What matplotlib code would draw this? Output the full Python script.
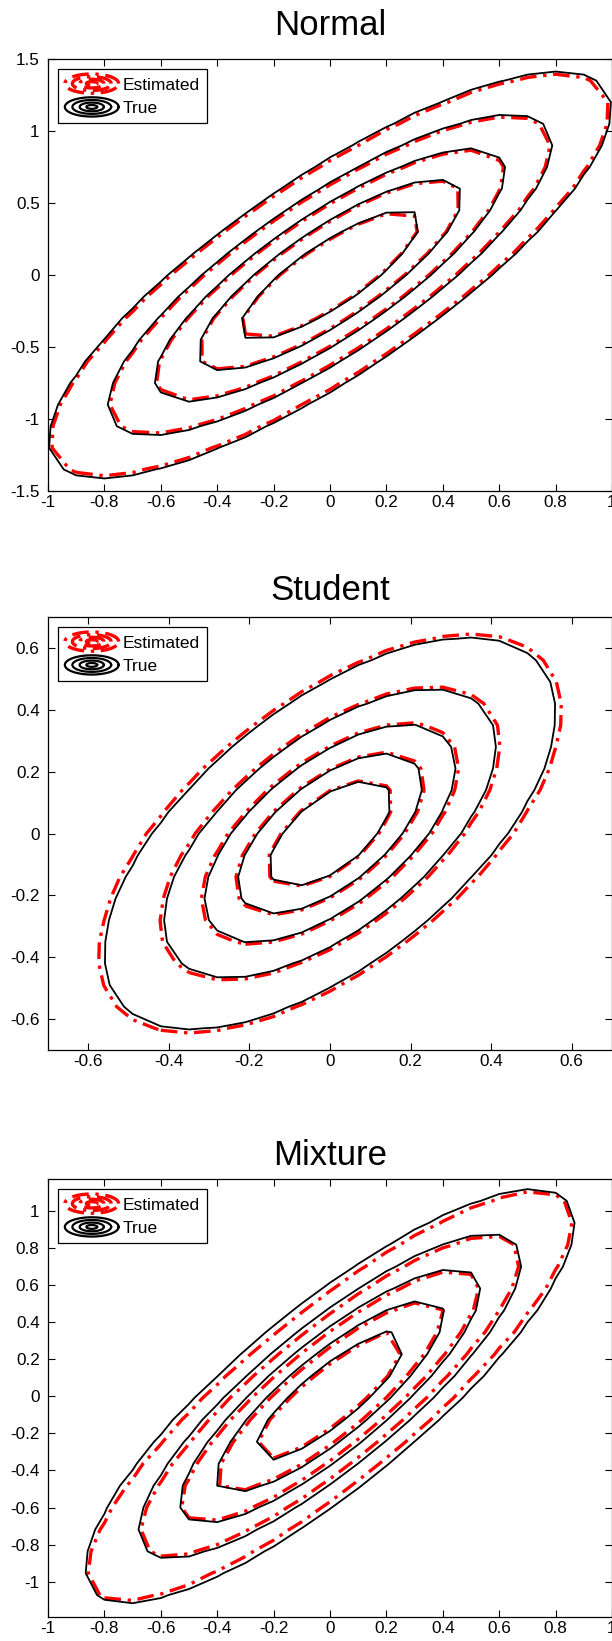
import numpy as np
import matplotlib
matplotlib.use('Agg')
import matplotlib.pyplot as plt
from matplotlib.legend_handler import HandlerBase
from matplotlib.lines import Line2D

plt.rcParams['font.family'] = ['Liberation Sans', 'DejaVu Sans']
plt.rcParams['axes.unicode_minus'] = False
plt.rcParams['lines.dashdot_pattern'] = [5.0, 2.0, 1.0, 2.0]

# contour levels as fractions of the peak density
level_frac = [0.17, 0.33, 0.5, 0.67, 0.83]
grid_n = 21

# Normal panel
normal_xlim = [-1.0, 1.0]
normal_ylim = [-1.5, 1.5]
normal_xticks = [-1, -0.8, -0.6, -0.4, -0.2, 0, 0.2, 0.4, 0.6, 0.8, 1]
normal_yticks = [-1.5, -1, -0.5, 0, 0.5, 1, 1.5]
normal_true_sd = [0.53, 0.75]
normal_true_rho = 0.82
normal_est_sd = [0.525, 0.74]
normal_est_rho = 0.825

# Student panel
student_xlim = [-0.7, 0.7]
student_ylim = [-0.7, 0.7]
student_xticks = [-0.6, -0.4, -0.2, 0, 0.2, 0.4, 0.6]
student_yticks = [-0.6, -0.4, -0.2, 0, 0.2, 0.4, 0.6]
student_df = 3
student_true_sd = [0.318, 0.36]
student_true_rho = 0.62
student_est_sd = [0.326, 0.366]
student_est_rho = 0.615

# Mixture panel
mixture_xlim = [-1.0, 1.0]
mixture_ylim = [-1.19, 1.17]
mixture_xticks = [-1, -0.8, -0.6, -0.4, -0.2, 0, 0.2, 0.4, 0.6, 0.8, 1]
mixture_yticks = [-1, -0.8, -0.6, -0.4, -0.2, 0, 0.2, 0.4, 0.6, 0.8, 1]
mixture_weights = [0.5, 0.5]
mixture_true_sd = [[0.52, 0.67], [0.42, 0.54]]
mixture_true_rho = 0.84
mixture_est_sd = [[0.515, 0.66], [0.415, 0.535]]
mixture_est_rho = 0.86


def quad_form(X, Y, sd, rho):
    zx = X / sd[0]
    zy = Y / sd[1]
    return (zx**2 - 2 * rho * zx * zy + zy**2) / (1 - rho**2)


def gauss_pdf(X, Y, sd, rho):
    q = quad_form(X, Y, sd, rho)
    return np.exp(-q / 2) / (2 * np.pi * sd[0] * sd[1] * np.sqrt(1 - rho**2))


def student_pdf(X, Y, sd, rho, nu):
    q = quad_form(X, Y, sd, rho)
    return (1 + q / nu) ** (-(nu + 2) / 2) / (2 * np.pi * sd[0] * sd[1] * np.sqrt(1 - rho**2))


def mixture_pdf(X, Y, sds, rho, w):
    return sum(wk * gauss_pdf(X, Y, sk, rho) for wk, sk in zip(w, sds))


class ContourIcon(HandlerBase):
    # small nest of ellipses standing in for a contour set
    def create_artists(self, legend, orig_handle, xdescent, ydescent,
                       width, height, fontsize, trans):
        cx = width / 2 - xdescent
        cy = height / 2 - ydescent
        t = np.linspace(0, 2 * np.pi, 80)
        arts = []
        for s in (1.0, 0.72, 0.45, 0.2):
            ln = Line2D(cx + s * 0.5 * width * np.cos(t),
                        cy + s * 0.62 * height * np.sin(t),
                        color=orig_handle.get_color(),
                        linestyle=orig_handle.get_linestyle(),
                        linewidth=orig_handle.get_linewidth())
            ln.set_transform(trans)
            arts.append(ln)
        return arts


def draw_panel(ax, title, title_pad, xlim, ylim, xticks, yticks, pdf_true, pdf_est):
    gx = np.linspace(xlim[0], xlim[1], grid_n)
    gy = np.linspace(ylim[0], ylim[1], grid_n)
    X, Y = np.meshgrid(gx, gy)
    Zt = pdf_true(X, Y)
    Ze = pdf_est(X, Y)
    ax.contour(X, Y, Ze, levels=Ze.max() * np.array(level_frac),
               colors='#ff0000', linewidths=2.4, linestyles='dashdot')
    ax.contour(X, Y, Zt, levels=Zt.max() * np.array(level_frac),
               colors='black', linewidths=1.3, linestyles='solid')
    ax.set_xlim(xlim)
    ax.set_ylim(ylim)
    ax.set_xticks(xticks)
    ax.set_yticks(yticks)
    ax.set_xticklabels([f'{v:g}' for v in xticks])
    ax.set_yticklabels([f'{v:g}' for v in yticks])
    ax.tick_params(direction='in', top=True, right=True, length=5,
                   width=0.8, labelsize=12.3)
    ax.tick_params(axis='x', pad=3)
    ax.tick_params(axis='y', pad=6)
    for sp in ax.spines.values():
        sp.set_linewidth(0.9)
    ax.set_title(title, fontsize=25, pad=title_pad)
    h_est = Line2D([], [], color='#ff0000', linestyle='-.', linewidth=2.4)
    h_true = Line2D([], [], color='black', linestyle='-', linewidth=1.6)
    leg = ax.legend([h_est, h_true], ['Estimated', 'True'], loc='upper left',
                    handler_map={Line2D: ContourIcon()}, fontsize=12.5,
                    handlelength=3.1, handleheight=1.0, handletextpad=0.25,
                    labelspacing=0.38, borderpad=0.42, borderaxespad=0.55,
                    fancybox=False, framealpha=1, edgecolor='black')
    leg.get_frame().set_linewidth(0.9)


fig = plt.figure(figsize=(6.12, 16.41), dpi=100)
W, H = 612.0, 1641.0
left = 48 / W
width = (W - 48) / W
panels = [(59, 491), (617, 1050), (1179, 1617)]
axes = [fig.add_axes([left, 1 - b / H, width, (b - t) / H]) for t, b in panels]

draw_panel(axes[0], 'Normal', 17, normal_xlim, normal_ylim, normal_xticks, normal_yticks,
           lambda X, Y: gauss_pdf(X, Y, normal_true_sd, normal_true_rho),
           lambda X, Y: gauss_pdf(X, Y, normal_est_sd, normal_est_rho))
draw_panel(axes[1], 'Student', 12, student_xlim, student_ylim, student_xticks, student_yticks,
           lambda X, Y: student_pdf(X, Y, student_true_sd, student_true_rho, student_df),
           lambda X, Y: student_pdf(X, Y, student_est_sd, student_est_rho, student_df))
draw_panel(axes[2], 'Mixture', 10, mixture_xlim, mixture_ylim, mixture_xticks, mixture_yticks,
           lambda X, Y: mixture_pdf(X, Y, mixture_true_sd, mixture_true_rho, mixture_weights),
           lambda X, Y: mixture_pdf(X, Y, mixture_est_sd, mixture_est_rho, mixture_weights))

fig.savefig('out.png', dpi=100)
